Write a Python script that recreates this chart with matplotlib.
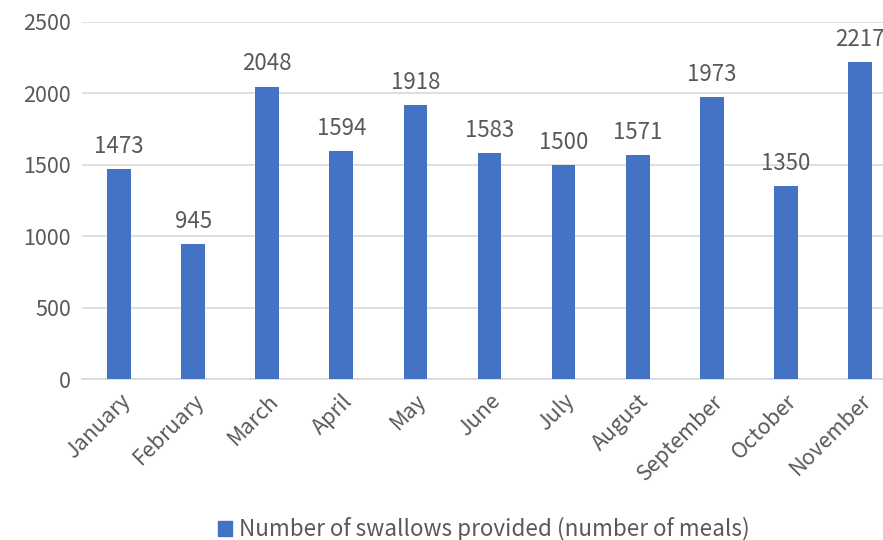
import matplotlib
matplotlib.use("Agg")
import matplotlib.pyplot as plt
from matplotlib.patches import Patch

months = ["January", "February", "March", "April", "May", "June", "July",
          "August", "September", "October", "November"]
values = [1473, 945, 2048, 1594, 1918, 1583, 1500, 1571, 1973, 1350, 2217]
series_name = "Number of swallows provided (number of meals)"

plt.rcParams['font.family'] = ['Noto Sans CJK JP', 'DejaVu Sans']
text_color = "#595959"
bar_color = "#4472C4"

fig = plt.figure(figsize=(8.83, 5.4), dpi=100)
ax = fig.add_axes([82/883, 1-379/540, 815/883, 357/540])
x = list(range(len(months)))
bars = ax.bar(x, values, width=0.32, color=bar_color, zorder=3)
ax.set_xlim(-0.5, len(months) - 0.5)
ax.set_ylim(0, 2500)
ax.set_yticks(range(0, 2501, 500))
ax.grid(axis='y', color="#D9D9D9", linewidth=1.2, zorder=0)
for s in ["top", "right", "left"]:
    ax.spines[s].set_visible(False)
ax.spines["bottom"].set_color("#D9D9D9")
ax.spines["bottom"].set_linewidth(1.2)
ax.tick_params(axis='both', length=0, labelsize=15.5, colors=text_color, pad=8)
ax.set_xticks(x)
ax.set_xticklabels(months, rotation=45, ha='right', rotation_mode='anchor')
for xi, v in zip(x, values):
    ax.annotate(str(v), (xi, v), xytext=(0, 8), textcoords='offset points',
                ha='center', va='bottom', fontsize=16, color=text_color)
fig.legend(handles=[Patch(color=bar_color, label=series_name)],
           loc='lower center', bbox_to_anchor=(0.548, -0.04), frameon=False,
           fontsize=16.2, labelcolor=text_color, handlelength=0.65,
           handleheight=0.65, handletextpad=0.3)
fig.savefig("out.png", dpi=100)
